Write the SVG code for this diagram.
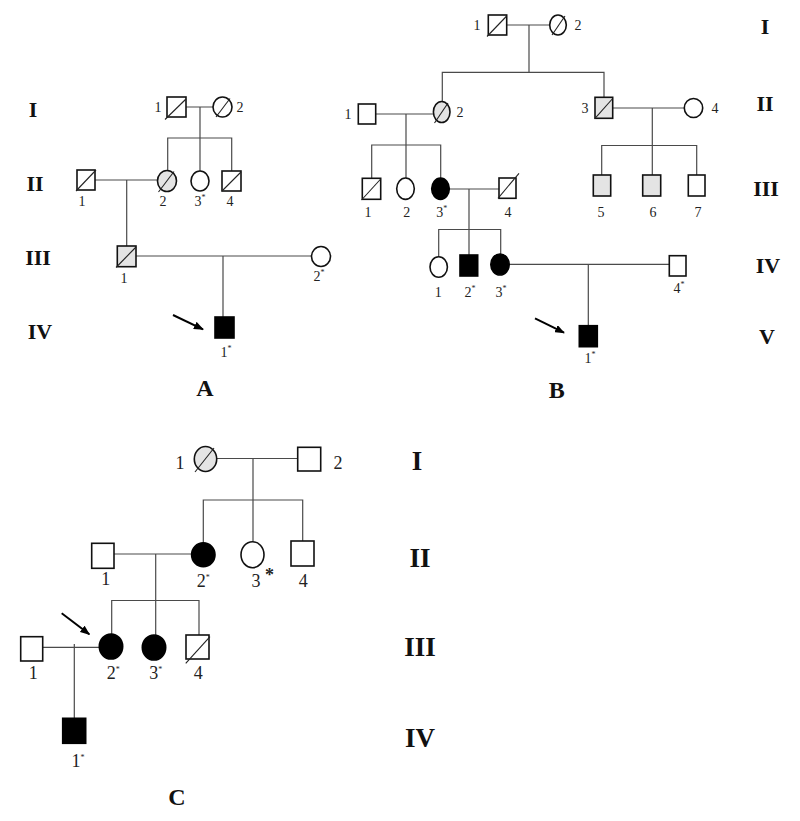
<svg xmlns="http://www.w3.org/2000/svg" width="800" height="821" viewBox="0 0 800 821">
<defs>
<style>
.c{fill:none;stroke:#4a4a4a;stroke-width:1.2}
.s{fill:#fff;stroke:#111;stroke-width:1.6}
.g{fill:#e4e4e4;stroke:#111;stroke-width:1.6}
.b{fill:#000;stroke:#000;stroke-width:1.6}
.d{stroke:#222;stroke-width:1.1}
.n{font-family:"Liberation Serif",serif;font-size:14px;fill:#222;text-anchor:middle}
.nc{font-family:"Liberation Serif",serif;font-size:18px;fill:#222;text-anchor:middle}
.gen{font-family:"Liberation Serif",serif;font-weight:bold;font-size:22px;fill:#111;text-anchor:middle}
.genc{font-family:"Liberation Serif",serif;font-weight:bold;font-size:27px;fill:#111;text-anchor:middle}
.let{font-family:"Liberation Serif",serif;font-weight:bold;font-size:24px;fill:#111;text-anchor:middle}
.sup{font-size:8px}
.arr{stroke:#000;stroke-width:2;fill:none}
</style>
<marker id="ah" markerWidth="10" markerHeight="8" refX="9" refY="4" orient="auto" markerUnits="userSpaceOnUse">
<path d="M0,0 L10,4 L0,8 z" fill="#000"/>
</marker>
</defs>

<g id="connectors">
<!-- Panel A -->
<path class="c" d="M186 107 H213 M200 107 V138 M167.7 170.5 V138 H231.7 V171 M200 138 V171"/>
<path class="c" d="M95 180 H157.5 M126.7 180 V246 M136 256 H311.5 M223 256 V317"/>
<!-- Panel B -->
<path class="c" d="M506.7 25 H549.7 M529 25 V72.3 M442.3 101.5 V72.3 H604 V97.3"/>
<path class="c" d="M375.7 114 H433.3 M406 114 V178 M371.7 178.3 V145 H440.7 V178"/>
<path class="c" d="M612.7 108 H684.3 M652.3 108 V175 M601.7 175 V145.5 H696.7 V175"/>
<path class="c" d="M449.3 189 H499 M469 189 V255 M438.7 256.7 V229.5 H500.7 V254"/>
<path class="c" d="M509.2 264.3 H669.3 M588.3 264.3 V325.7"/>
<!-- Panel C -->
<path class="c" d="M216.7 458.5 H297.7 M253 458.5 V541.7 M203.3 542.7 V500 H302.7 V541"/>
<path class="c" d="M114 554 H191.7 M155.7 554 V635 M111.7 634 V600.5 H199 V635"/>
<path class="c" d="M42.7 647.3 H99.3 M74.3 644 V718.3"/>
<!-- proband arrows -->
<line class="arr" x1="173" y1="315" x2="203" y2="329.3" marker-end="url(#ah)"/>
<line class="arr" x1="535" y1="318.3" x2="564" y2="332.7" marker-end="url(#ah)"/>
<line class="arr" x1="61.7" y1="613.3" x2="89.3" y2="634.3" marker-end="url(#ah)"/>
</g>

<!-- ===== Panel A ===== -->
<g id="A-gen">
<text class="gen" x="33" y="117">I</text>
<text class="gen" x="35" y="191">II</text>
<text class="gen" x="38" y="265">III</text>
<text class="gen" x="40" y="339">IV</text>
</g>
<g id="A-I-1"><rect class="s" x="167" y="97" width="19" height="20"/><line class="d" x1="165" y1="119.5" x2="186" y2="99"/><text class="n" x="158" y="112">1</text></g>
<g id="A-I-2"><ellipse class="s" cx="222.5" cy="107" rx="9.5" ry="10"/><line class="d" x1="216" y1="117" x2="230" y2="98.5"/><text class="n" x="240" y="112">2</text></g>
<g id="A-II-1"><rect class="s" x="77" y="170" width="18" height="20"/><line class="d" x1="76" y1="191" x2="96" y2="170"/><text class="n" x="82" y="206">1</text></g>
<g id="A-II-2"><ellipse class="g" cx="167" cy="181" rx="9.5" ry="10.5"/><line class="d" x1="158.5" y1="192" x2="174" y2="171.5"/><text class="n" x="163" y="206">2</text></g>
<g id="A-II-3"><ellipse class="s" cx="200" cy="181" rx="9" ry="10"/><text class="n" x="200" y="206">3<tspan class="sup" dy="-6">*</tspan></text></g>
<g id="A-II-4"><rect class="s" x="222" y="171" width="19" height="20"/><line class="d" x1="222" y1="191" x2="241" y2="172"/><text class="n" x="230" y="206">4</text></g>
<g id="A-III-1"><rect class="g" x="117.3" y="246" width="18.7" height="20.7"/><line class="d" x1="116" y1="267.5" x2="136" y2="247"/><text class="n" x="124" y="283">1</text></g>
<g id="A-III-2"><ellipse class="s" cx="321" cy="256.5" rx="9.5" ry="10"/><text class="n" x="319" y="281">2<tspan class="sup" dy="-6">*</tspan></text></g>
<g id="A-IV-1"><rect class="b" x="215" y="317" width="19" height="21"/><text class="n" x="226" y="357">1<tspan class="sup" dy="-6">*</tspan></text></g>
<text id="A-label" class="let" x="205" y="396">A</text>

<!-- ===== Panel B ===== -->
<g id="B-gen">
<text class="gen" x="765" y="34">I</text>
<text class="gen" x="765" y="111">II</text>
<text class="gen" x="766" y="196">III</text>
<text class="gen" x="768" y="273">IV</text>
<text class="gen" x="767" y="344">V</text>
</g>
<g id="B-I-1"><rect class="s" x="488.3" y="15" width="18.4" height="20"/><line class="d" x1="487" y1="36.5" x2="506.7" y2="16"/><text class="n" x="477" y="30">1</text></g>
<g id="B-I-2"><ellipse class="s" cx="558" cy="25" rx="8.3" ry="10"/><line class="d" x1="552" y1="35" x2="565" y2="16"/><text class="n" x="578" y="30">2</text></g>
<g id="B-II-1"><rect class="s" x="358.3" y="104" width="17.4" height="20"/><text class="n" x="348" y="119">1</text></g>
<g id="B-II-2"><ellipse class="g" cx="441.7" cy="112" rx="8.3" ry="10.5"/><line class="d" x1="434.5" y1="123" x2="448" y2="103"/><text class="n" x="460" y="117">2</text></g>
<g id="B-II-3"><rect class="g" x="595" y="97.3" width="17.7" height="21"/><line class="d" x1="595" y1="118.3" x2="612.7" y2="98.5"/><text class="n" x="585" y="113">3</text></g>
<g id="B-II-4"><ellipse class="s" cx="693.5" cy="108" rx="9.2" ry="9.5"/><text class="n" x="715" y="113">4</text></g>
<g id="B-III-1"><rect class="s" x="362.3" y="178.3" width="18.4" height="21"/><line class="d" x1="361.5" y1="200" x2="380.7" y2="179"/><text class="n" x="368" y="216.5">1</text></g>
<g id="B-III-2"><ellipse class="s" cx="405.5" cy="188.7" rx="8.8" ry="10.7"/><text class="n" x="406.7" y="216.5">2</text></g>
<g id="B-III-3"><ellipse class="b" cx="440.5" cy="188.7" rx="8.8" ry="10.7"/><text class="n" x="441.7" y="216.5">3<tspan class="sup" dy="-6">*</tspan></text></g>
<g id="B-III-4"><rect class="s" x="499" y="178" width="17" height="20.3"/><line class="d" x1="498" y1="198.3" x2="519" y2="173.3"/><text class="n" x="508" y="216.5">4</text></g>
<g id="B-III-5"><rect class="g" x="593.3" y="175" width="17.4" height="21"/><text class="n" x="601" y="216.5">5</text></g>
<g id="B-III-6"><rect class="g" x="642.7" y="175" width="18" height="21"/><text class="n" x="653" y="216.5">6</text></g>
<g id="B-III-7"><rect class="s" x="688.3" y="175" width="16.7" height="21"/><text class="n" x="698" y="216.5">7</text></g>
<g id="B-IV-1"><ellipse class="s" cx="438.7" cy="267" rx="8.7" ry="10.3"/><text class="n" x="438.3" y="297">1</text></g>
<g id="B-IV-2"><rect class="b" x="460" y="255" width="17.7" height="21"/><text class="n" x="470" y="297">2<tspan class="sup" dy="-6">*</tspan></text></g>
<g id="B-IV-3"><ellipse class="b" cx="500" cy="264.5" rx="9.2" ry="10.5"/><text class="n" x="501" y="297">3<tspan class="sup" dy="-6">*</tspan></text></g>
<g id="B-IV-4"><rect class="s" x="669.3" y="255.7" width="16.7" height="20.3"/><text class="n" x="679" y="293">4<tspan class="sup" dy="-6">*</tspan></text></g>
<g id="B-V-1"><rect class="b" x="579.3" y="325.7" width="18" height="21"/><text class="n" x="590" y="363">1<tspan class="sup" dy="-6">*</tspan></text></g>
<text id="B-label" class="let" x="556.7" y="398">B</text>

<!-- ===== Panel C ===== -->
<g id="C-gen">
<text class="genc" x="417" y="470">I</text>
<text class="genc" x="420" y="567">II</text>
<text class="genc" x="420" y="656">III</text>
<text class="genc" x="420" y="747">IV</text>
</g>
<g id="C-I-1"><ellipse class="g" cx="205.5" cy="459" rx="11.2" ry="12.5"/><line class="d" x1="195" y1="472" x2="214" y2="448"/><text class="nc" x="180" y="469">1</text></g>
<g id="C-I-2"><rect class="s" x="297.7" y="447.3" width="23" height="23.7"/><text class="nc" x="338" y="468.5">2</text></g>
<g id="C-II-1"><rect class="s" x="91.7" y="543.3" width="22.3" height="25"/><text class="nc" x="105.7" y="585">1</text></g>
<g id="C-II-2"><ellipse class="b" cx="203.3" cy="554.7" rx="11.7" ry="12"/><text class="nc" x="203.3" y="586.7">2<tspan class="sup" dy="-7">*</tspan></text></g>
<g id="C-II-3"><ellipse class="s" cx="252.5" cy="554.7" rx="11.5" ry="13"/><text class="nc" x="256" y="586.7">3</text><text class="nc" x="269.5" y="581" font-weight="bold" font-size="17">*</text></g>
<g id="C-II-4"><rect class="s" x="291" y="541" width="23" height="25"/><text class="nc" x="303.3" y="586.7">4</text></g>
<g id="C-III-1"><rect class="s" x="20.7" y="636.7" width="22" height="24.3"/><text class="nc" x="33.3" y="679">1</text></g>
<g id="C-III-2"><ellipse class="b" cx="111" cy="646.5" rx="11.7" ry="12.5"/><text class="nc" x="113.3" y="679.3">2<tspan class="sup" dy="-7">*</tspan></text></g>
<g id="C-III-3"><ellipse class="b" cx="154" cy="647.5" rx="11.7" ry="12.5"/><text class="nc" x="155.7" y="679.3">3<tspan class="sup" dy="-7">*</tspan></text></g>
<g id="C-III-4"><rect class="s" x="186" y="635" width="23" height="24"/><line class="d" x1="185.7" y1="663.3" x2="210" y2="636.7"/><text class="nc" x="198.3" y="679.3">4</text></g>
<g id="C-IV-1"><rect class="b" x="62.7" y="718.3" width="23" height="25"/><text class="nc" x="78" y="767">1<tspan class="sup" dy="-7">*</tspan></text></g>
<text id="C-label" class="let" x="177" y="805" font-size="31">C</text>
</svg>
